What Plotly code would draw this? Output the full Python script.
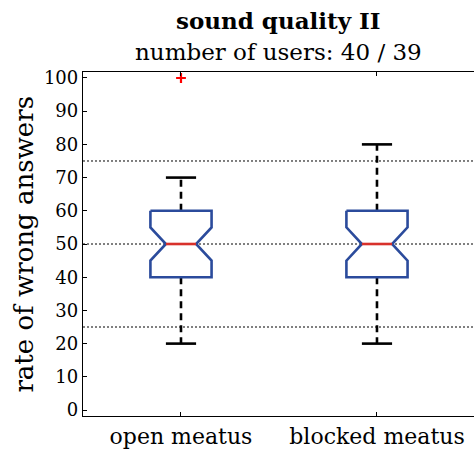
import math
import plotly.graph_objects as go

# ---- data ----
categories = ["open meatus", "blocked meatus"]
n_users = [40, 39]
q1 = [40, 40]
median = [50, 50]
q3 = [60, 60]
whisker_low = [20, 20]
whisker_high = [70, 80]
outliers = [[100], []]
ref_lines = [25, 50, 75]
y_ticks = [0, 10, 20, 30, 40, 50, 60, 70, 80, 90, 100]

# ---- style ----
FONT = "DejaVu Serif"
BLUE = "#2b4b9c"
RED = "#d8312b"
BOX_HALF = 0.156
NOTCH_HALF = 0.077
CAP_HALF = 0.077

fig = go.Figure()
positions = list(range(1, len(categories) + 1))

for i, p in enumerate(positions):
    iqr = q3[i] - q1[i]
    nd = 1.57 * iqr / math.sqrt(n_users[i])
    nlo, nhi = median[i] - nd, median[i] + nd
    # whiskers (dashed)
    for a, b in ((q3[i], whisker_high[i]), (q1[i], whisker_low[i])):
        fig.add_trace(go.Scatter(x=[p, p], y=[a, b], mode="lines",
                                 line=dict(color="black", width=2.6, dash="7px,5px"),
                                 showlegend=False, hoverinfo="skip"))
    # caps
    for v in (whisker_high[i], whisker_low[i]):
        fig.add_trace(go.Scatter(x=[p - CAP_HALF, p + CAP_HALF], y=[v, v], mode="lines",
                                 line=dict(color="black", width=2.6),
                                 showlegend=False, hoverinfo="skip"))
    # notched box outline
    bx = [p - BOX_HALF, p + BOX_HALF, p + BOX_HALF, p + NOTCH_HALF, p + BOX_HALF,
          p + BOX_HALF, p - BOX_HALF, p - BOX_HALF, p - NOTCH_HALF, p - BOX_HALF,
          p - BOX_HALF]
    by = [q3[i], q3[i], nhi, median[i], nlo, q1[i], q1[i], nlo, median[i], nhi, q3[i]]
    fig.add_trace(go.Scatter(x=bx, y=by, mode="lines",
                             line=dict(color=BLUE, width=2.6),
                             showlegend=False, hoverinfo="skip"))
    # median
    fig.add_trace(go.Scatter(x=[p - NOTCH_HALF, p + NOTCH_HALF], y=[median[i], median[i]],
                             mode="lines", line=dict(color=RED, width=2.6),
                             showlegend=False, hoverinfo="skip"))
    # outliers
    if outliers[i]:
        fig.add_trace(go.Scatter(x=[p] * len(outliers[i]), y=outliers[i], mode="markers",
                                 marker=dict(symbol="cross-thin", size=7,
                                             line=dict(color="red", width=2.2)),
                                 showlegend=False, hoverinfo="skip"))

for v in ref_lines:
    fig.add_hline(y=v, line=dict(color="black", width=1, dash="2px,2px"), layer="below")

fig.add_annotation(text="<b>sound quality II</b>", xref="paper", yref="paper",
                   x=0.5, y=1.151, xanchor="center", yanchor="middle",
                   showarrow=False, font=dict(family=FONT, size=23, color="black"))
fig.add_annotation(text="number of users: %d / %d" % (n_users[0], n_users[1]),
                   xref="paper", yref="paper", x=0.5, y=1.058,
                   xanchor="center", yanchor="middle", showarrow=False,
                   font=dict(family=FONT, size=23, color="black"))
fig.add_annotation(text="rate of wrong answers", xref="paper", yref="paper",
                   x=-0.152, y=0.5, xanchor="center", yanchor="middle", textangle=-90,
                   showarrow=False, font=dict(family=FONT, size=26, color="black"))

fig.update_layout(
    width=474, height=449,
    margin=dict(l=83, r=0, t=72, b=33),
    paper_bgcolor="white", plot_bgcolor="white",
    font=dict(family=FONT, color="black"),
    hovermode=False,
    xaxis=dict(range=[0.5, 2.495], tickvals=positions, ticktext=categories,
               ticks="inside", ticklen=4, tickcolor="black", showgrid=False,
               zeroline=False, showline=True, linecolor="black", linewidth=1.3,
               mirror="ticks", tickfont=dict(family=FONT, size=22, color="black"),
               ticklabelstandoff=0),
    yaxis=dict(range=[-1.8, 101.8], tickvals=y_ticks, ticks="inside", ticklen=4,
               tickcolor="black", showgrid=False, zeroline=False, showline=True,
               linecolor="black", linewidth=1.3, mirror=False,
               tickfont=dict(family=FONT, size=18, color="black")),
)

fig.write_html("out.html",
               config={"displayModeBar": False},
               post_script="document.body.style.margin='0';"
                           "document.body.style.overflow='hidden';")
